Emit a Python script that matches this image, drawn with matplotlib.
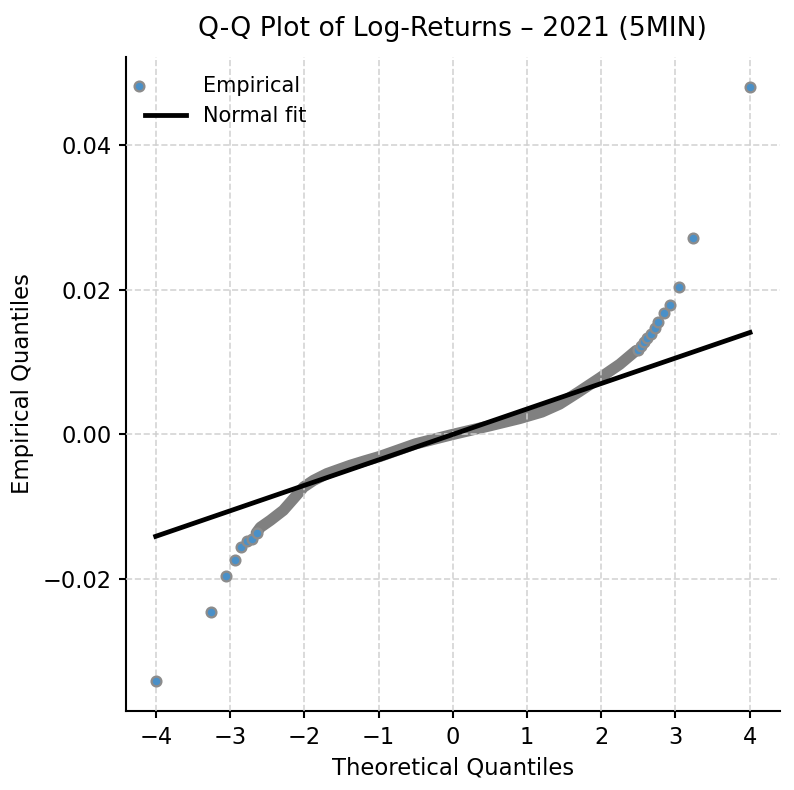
import matplotlib
matplotlib.use("Agg")
import matplotlib.pyplot as plt
from matplotlib.collections import PathCollection
from matplotlib.legend_handler import HandlerPathCollection
import numpy as np

# ---- data ----
# dense central band of the Q-Q plot (theoretical, empirical)
band_theo = [-2.65, -2.594, -2.46, -2.285, -2.147, -2.012, -1.878, -1.698, -1.384,
             -1.2, -0.981, -0.5, 0.0, 0.5, 0.9, 1.2, 1.44, 1.7, 1.98, 2.25, 2.47]
band_emp = [-0.01363, -0.01285, -0.01189, -0.01050, -0.00889, -0.00728, -0.00636,
            -0.00543, -0.00428, -0.0037, -0.00304, -0.0013, 0.0, 0.0012, 0.0022,
            0.0031, 0.0042, 0.0059, 0.0078, 0.0097, 0.0116]

# sparse tail points
tail_theo = [-4.005, -3.266, -3.055, -2.94, -2.85, -2.78, -2.71, -2.645,
             2.496, 2.536, 2.577, 2.621, 2.671, 2.719, 2.769, 2.84, 2.93, 3.051, 3.239, 4.005]
tail_emp = [-0.03414, -0.0246, -0.01963, -0.01742, -0.01552, -0.01470, -0.01447, -0.01363,
            0.01161, 0.01216, 0.01276, 0.01331, 0.01392, 0.01469, 0.01552, 0.01677,
            0.01783, 0.02036, 0.02723, 0.0481]

# normal fit: mean and std of log-returns
fit_mu = 0.0
fit_sigma = 0.00352

title = "Q-Q Plot of Log-Returns \u2013 2021 (5MIN)"
xlabel = "Theoretical Quantiles"
ylabel = "Empirical Quantiles"


class LeftMarkerHandler(HandlerPathCollection):
    def get_xdata(self, legend, xdescent, ydescent, width, height, fontsize):
        xdata = [-xdescent, -xdescent + width]
        return xdata, np.array([-xdescent - 0.3 * fontsize])


# ---- plot ----
fig = plt.figure(figsize=(794 / 150, 790 / 150), dpi=150)
ax = fig.add_axes([0.1587, 0.1, 0.982 - 0.1587, 0.928 - 0.1])

all_theo = np.array(tail_theo + band_theo)

# dense band (overlapping markers)
ax.plot(band_theo, band_emp, color="#808080", lw=5.4, solid_capstyle="round",
        solid_joinstyle="round", zorder=2)
ax.scatter(tail_theo, tail_emp, s=22, facecolor="#4a90c8", edgecolor="#8c8c8c",
           linewidths=1.1, zorder=4, label="Empirical")

xfit = np.array([min(all_theo), max(all_theo)])
ax.plot(xfit, fit_mu + fit_sigma * xfit, color="black", lw=2.3, zorder=3.5,
        label="Normal fit")

ax.grid(True, ls="--", lw=0.8, color="#d0d0d0", alpha=0.9)
ax.set_axisbelow(False)
for gl in ax.get_xgridlines() + ax.get_ygridlines():
    gl.set_zorder(2.5)

ax.set_xticks([-4, -3, -2, -1, 0, 1, 2, 3, 4])
ax.set_xticklabels(["\u22124", "\u22123", "\u22122", "\u22121", "0", "1", "2", "3", "4"])
ax.set_yticks([-0.02, 0.0, 0.02, 0.04])
ax.set_yticklabels(["\u22120.02", "0.00", "0.02", "0.04"])
ax.tick_params(labelsize=10.8, width=1.0, length=3.5)

for side in ("top", "right"):
    ax.spines[side].set_visible(False)
for side in ("left", "bottom"):
    ax.spines[side].set_linewidth(1.0)

ax.set_xlabel(xlabel, fontsize=10.9)
ax.set_ylabel(ylabel, fontsize=10.9)
ax.set_title(title, fontsize=12.8, pad=10)

ax.legend(loc="upper left", frameon=False, fontsize=10,
          handler_map={PathCollection: LeftMarkerHandler(numpoints=1)})

fig.savefig("out.png", dpi=150)
